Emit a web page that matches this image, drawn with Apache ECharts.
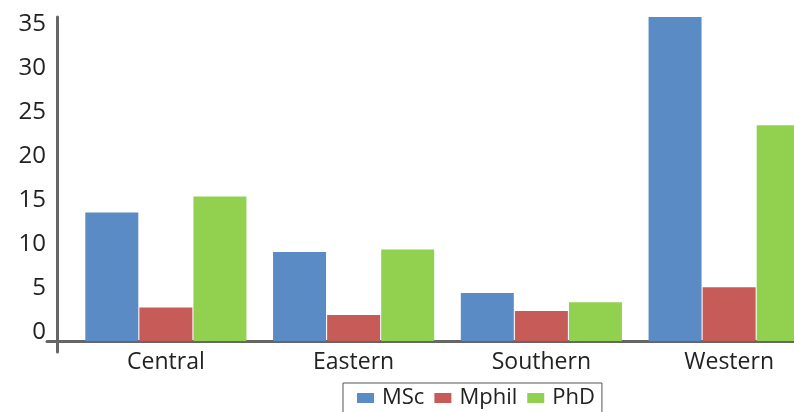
<!DOCTYPE html>
<html>
<head>
<meta charset="utf-8">
<script src="https://cdn.jsdelivr.net/npm/echarts@6/dist/echarts.min.js"></script>
<style>html,body{margin:0;padding:0;background:#fff}#c{width:794px;height:412px}</style>
</head>
<body>
<div id="c"></div>
<script>
const categories = ['Central', 'Eastern', 'Southern', 'Western'];
const seriesNames = ['MSc', 'Mphil', 'PhD'];
const msc = [14.6, 10.1, 5.45, 36.8];
const mphil = [3.8, 2.95, 3.4, 6.1];
const phd = [16.4, 10.4, 4.4, 24.5];
const yTicks = [0, 5, 10, 15, 20, 25, 30, 35];

const colors = ['#5a8bc4', '#c75b58', '#92d050'];
const font = "'Open Sans', 'Noto Sans', sans-serif";
const chart = echarts.init(document.getElementById('c'), null, {renderer: 'canvas'});
const axisCol = '#666666';

chart.setOption({
  animation: false,
  color: colors,
  textStyle: {fontFamily: font},
  grid: [
    {left: 72, width: 751, top: 17, bottom: 71, outerBoundsMode: 'none', containLabel: false},
    {left: 47, right: 0, top: 17, bottom: 70.5, outerBoundsMode: 'none', containLabel: false},
    {left: 57, width: 10, top: 17, bottom: 60, outerBoundsMode: 'none', containLabel: false}
  ],
  legend: {
    data: seriesNames,
    left: 343, top: 383,
    orient: 'horizontal',
    itemWidth: 17, itemHeight: 10, itemGap: 10,
    borderColor: '#555', borderWidth: 1,
    padding: [4, 7, 14, 14],
    textStyle: {fontSize: 22, color: '#222', fontFamily: font, padding: [0, 0, 0, 3]},
    icon: 'rect'
  },
  xAxis: [
    {gridIndex: 0, type: 'category', data: categories,
     axisLine: {show: false}, axisTick: {show: false},
     axisLabel: {fontSize: 23, color: '#222', margin: 10, fontFamily: font}},
    {gridIndex: 1, type: 'value', min: 0, max: 1,
     axisLine: {show: true, lineStyle: {color: axisCol, width: 3}},
     axisTick: {show: false}, axisLabel: {show: false}, splitLine: {show: false}},
    {gridIndex: 2, type: 'value', show: false}
  ],
  yAxis: [
    {gridIndex: 0, type: 'value', min: yTicks[0], max: 36.8, interval: 5, offset: 15,
     axisLine: {show: false}, axisTick: {show: false}, splitLine: {show: false},
     axisLabel: {fontSize: 24, color: '#222', margin: 11, showMaxLabel: false,
       verticalAlign: 'bottom', lineHeight: 18, fontFamily: font,
       formatter: v => yTicks.indexOf(v) >= 0 ? String(v) : ''}},
    {gridIndex: 1, type: 'value', show: false},
    {gridIndex: 2, type: 'value', min: 0, max: 1,
     axisLine: {show: true, lineStyle: {color: axisCol, width: 3}},
     axisTick: {show: false}, axisLabel: {show: false}, splitLine: {show: false}}
  ],
  series: [
    {name: seriesNames[0], type: 'bar', data: msc, barWidth: 53, barGap: '2%', xAxisIndex: 0, yAxisIndex: 0},
    {name: seriesNames[1], type: 'bar', data: mphil, barWidth: 53, barGap: '2%', xAxisIndex: 0, yAxisIndex: 0},
    {name: seriesNames[2], type: 'bar', data: phd, barWidth: 53, barGap: '2%', xAxisIndex: 0, yAxisIndex: 0}
  ]
});
</script>
</body>
</html>
